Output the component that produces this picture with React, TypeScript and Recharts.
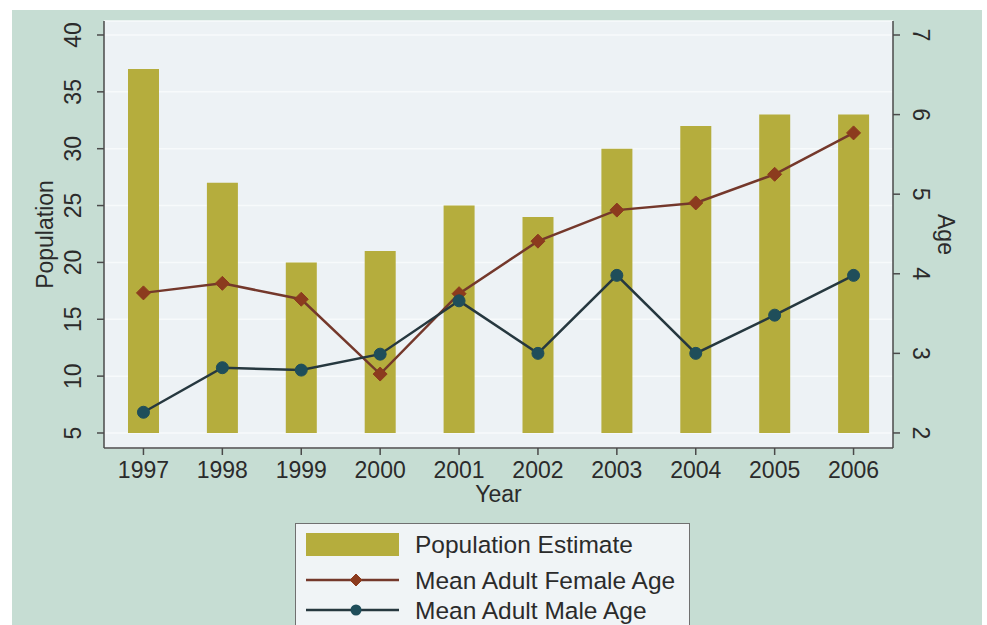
import React from "react";
import { ComposedChart, Bar, Line, XAxis, YAxis, CartesianGrid, Legend } from "recharts";

const years = ["1997", "1998", "1999", "2000", "2001", "2002", "2003", "2004", "2005", "2006"];
const population = [37, 27, 20, 21, 25, 24, 30, 32, 33, 33];
const femaleAge = [3.76, 3.88, 3.68, 2.74, 3.75, 4.41, 4.8, 4.89, 5.25, 5.77];
const maleAge = [2.26, 2.82, 2.79, 2.99, 3.66, 3.0, 3.98, 3.0, 3.48, 3.98];
const popTicks = [5, 10, 15, 20, 25, 30, 35, 40];
const ageTicks = [2, 3, 4, 5, 6, 7];
const POP_BASE = 5;

const data = years.map((year, i) => ({
  year,
  population: [POP_BASE, population[i]],
  female: femaleAge[i],
  male: maleAge[i],
}));

const FONT = '"Liberation Sans", Arial, Helvetica, sans-serif';
const TEXT = "#2b2b2b";
const AXIS = "#4a4a4a";
const BAR = "#b5ad3d";
const FEMALE_LINE = "#74382b";
const FEMALE_DOT = "#8c3b1e";
const MALE_LINE = "#26383f";
const MALE_DOT = "#1f4e5a";

function Diamond({ cx, cy, size = 7 }: { cx: number; cy: number; size?: number }) {
  return (
    <polygon
      points={`${cx},${cy - size} ${cx + size},${cy} ${cx},${cy + size} ${cx - size},${cy}`}
      fill={FEMALE_DOT}
      stroke={FEMALE_DOT}
      strokeWidth={1}
    />
  );
}

const LeftTick = ({ x, y, payload }: any) => {
  const bx = x - 14;
  return (
    <text x={bx} y={y} transform={`rotate(-90, ${bx}, ${y})`} textAnchor="middle"
      fontFamily={FONT} fontSize={23} fill={TEXT}>
      {payload.value}
    </text>
  );
};

const RightTick = ({ x, y, payload }: any) => {
  const bx = x + 11;
  return (
    <text x={bx} y={y} transform={`rotate(90, ${bx}, ${y})`} textAnchor="middle"
      fontFamily={FONT} fontSize={23} fill={TEXT}>
      {payload.value}
    </text>
  );
};

const popTitle = ({ viewBox }: any) => {
  const x = viewBox.x + 53;
  const y = viewBox.y + viewBox.height / 2;
  return (
    <text x={x} y={y} transform={`rotate(-90, ${x}, ${y})`} textAnchor="middle"
      fontFamily={FONT} fontSize={23} fill={TEXT}>
      Population
    </text>
  );
};

const ageTitle = ({ viewBox }: any) => {
  const x = viewBox.x + 45;
  const y = viewBox.y + viewBox.height / 2;
  return (
    <text x={x} y={y} transform={`rotate(90, ${x}, ${y})`} textAnchor="middle"
      fontFamily={FONT} fontSize={23} fill={TEXT}>
      Age
    </text>
  );
};

const yearTitle = ({ viewBox }: any) => (
  <text x={viewBox.x + viewBox.width / 2} y={viewBox.y + 54} textAnchor="middle"
    fontFamily={FONT} fontSize={23} fill={TEXT}>
    Year
  </text>
);

function LegendBox() {
  const rows = [20, 56, 86];
  return (
    <div
      style={{
        width: 395,
        height: 102,
        boxSizing: "border-box",
        background: "#f0f4f6",
        border: "1px solid #707070",
        borderBottom: "none",
      }}
    >
      <svg width={393} height={101} style={{ display: "block" }}>
        <rect x={10} y={rows[0] - 11} width={93} height={23} fill={BAR} />
        <line x1={10} x2={103} y1={rows[1]} y2={rows[1]} stroke={FEMALE_LINE} strokeWidth={2.5} />
        <Diamond cx={60} cy={rows[1]} size={6} />
        <line x1={10} x2={103} y1={rows[2]} y2={rows[2]} stroke={MALE_LINE} strokeWidth={2.5} />
        <circle cx={60} cy={rows[2]} r={5.5} fill={MALE_DOT} />
        {["Population Estimate", "Mean Adult Female Age", "Mean Adult Male Age"].map((t, i) => (
          <text key={t} x={119} y={rows[i] + 9} fontFamily={FONT} fontSize={24.5} fill={TEXT}>
            {t}
          </text>
        ))}
      </svg>
    </div>
  );
}

export default function App() {
  return (
    <div style={{ position: "absolute", left: 0, top: 0, width: 987, height: 625, background: "#ffffff", overflow: "hidden" }}>
      <div style={{ position: "absolute", left: 12, top: 10, width: 970, height: 615, background: "#c6ddd3" }} />
      <div style={{ position: "absolute", left: 0, top: 0 }}>
        <ComposedChart
          width={987}
          height={625}
          data={data}
          margin={{ top: 21, right: 0, bottom: 117, left: 0 }}
        >
          <CartesianGrid
            yAxisId="pop"
            fill="#edf2f5"
            vertical={false}
            stroke="#f7fafb"
            strokeWidth={1.5}
          />
          <XAxis
            dataKey="year"
            height={60}
            tick={{ fontFamily: FONT, fontSize: 23, fill: TEXT }}
            tickSize={7}
            tickMargin={7}
            axisLine={{ stroke: AXIS, strokeWidth: 1.5 }}
            tickLine={{ stroke: AXIS, strokeWidth: 1.5 }}
            label={yearTitle}
          />
          <YAxis
            yAxisId="pop"
            orientation="left"
            width={104}
            type="number"
            domain={[3.68, 41.23]}
            ticks={popTicks}
            tick={<LeftTick />}
            tickSize={7}
            axisLine={{ stroke: AXIS, strokeWidth: 1.5 }}
            tickLine={{ stroke: AXIS, strokeWidth: 1.5 }}
            label={popTitle}
          />
          <YAxis
            yAxisId="age"
            orientation="right"
            width={94}
            type="number"
            domain={[1.811, 7.176]}
            ticks={ageTicks}
            tick={<RightTick />}
            tickSize={7}
            axisLine={{ stroke: AXIS, strokeWidth: 1.5 }}
            tickLine={{ stroke: AXIS, strokeWidth: 1.5 }}
            label={ageTitle}
          />
          <Bar
            yAxisId="pop"
            dataKey="population"
            name="Population Estimate"
            fill={BAR}
            barSize={31}
            isAnimationActive={false}
          />
          <Line
            yAxisId="age"
            dataKey="female"
            name="Mean Adult Female Age"
            stroke={FEMALE_LINE}
            strokeWidth={2.5}
            dot={(p: any) => <Diamond key={`f${p.index}`} cx={p.cx} cy={p.cy} />}
            activeDot={false}
            isAnimationActive={false}
          />
          <Line
            yAxisId="age"
            dataKey="male"
            name="Mean Adult Male Age"
            stroke={MALE_LINE}
            strokeWidth={2.5}
            dot={{ r: 6, fill: MALE_DOT, stroke: MALE_DOT, strokeWidth: 1 }}
            activeDot={false}
            isAnimationActive={false}
          />
          <Legend
            layout="vertical"
            align="center"
            verticalAlign="middle"
            content={() => <LegendBox />}
            wrapperStyle={{ left: 295, top: 523, width: 395, height: 102 }}
          />
        </ComposedChart>
      </div>
    </div>
  );
}
